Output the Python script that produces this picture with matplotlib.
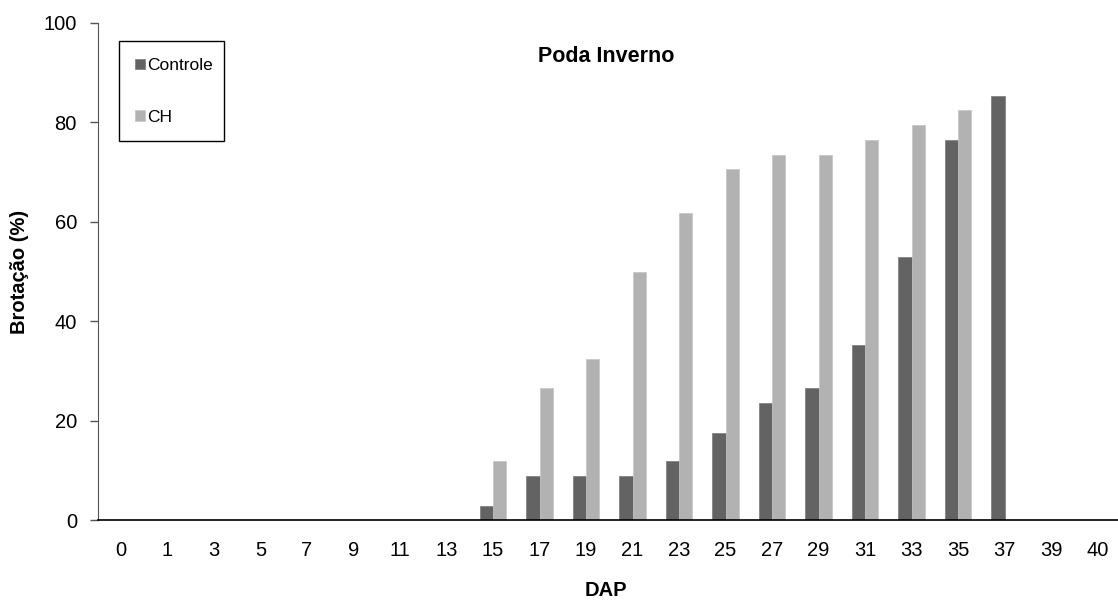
import matplotlib
matplotlib.use("Agg")
import matplotlib.pyplot as plt
from matplotlib.patches import Rectangle
import numpy as np

plt.rcParams['font.family'] = ['Liberation Sans', 'DejaVu Sans']

dap = ["0", "1", "3", "5", "7", "9", "11", "13", "15", "17", "19",
       "21", "23", "25", "27", "29", "31", "33", "35", "37", "39", "40"]
controle = [0, 0, 0, 0, 0, 0, 0, 0, 2.9, 8.8, 8.8, 8.8, 11.8, 17.6,
            23.5, 26.5, 35.3, 52.9, 76.5, 85.3, 0, 0]
ch = [0, 0, 0, 0, 0, 0, 0, 0, 11.8, 26.5, 32.4, 50.0, 61.8, 70.6,
      73.5, 73.5, 76.5, 79.4, 82.4, 0, 0, 0]
yticks = [0, 20, 40, 60, 80, 100]

fig = plt.figure(figsize=(11.18, 6.08), dpi=100)
AX_L, AX_W, AX_B, AX_H = 97.75, 1023, 88, 497
ax = fig.add_axes([AX_L / 1118, AX_B / 608, AX_W / 1118, AX_H / 608])

def axx(px):
    return (px - AX_L) / AX_W

def axy(py):
    return (608 - AX_B - py) / AX_H

x = np.arange(len(dap))
w = 0.29
ax.bar(x - w / 2, controle, w, color="#636363", edgecolor="#7a7a7a", linewidth=0.5, label="Controle")
ax.bar(x + w / 2, ch, w, color="#b2b2b2", edgecolor="#c4c4c4", linewidth=0.5, label="CH")

ax.set_xlim(-0.5, len(dap) - 0.5)
ax.set_ylim(0, 100)
ax.set_xticks(x)
ax.set_xticklabels(dap)
ax.set_yticks(yticks)
ax.tick_params(axis="x", length=0, pad=15, labelsize=14.5)
ax.tick_params(axis="y", length=6, width=1, color="#555555", pad=9, labelsize=14.5)
for s in ["top", "right"]:
    ax.spines[s].set_visible(False)
ax.spines["left"].set_color("#555555")
ax.spines["bottom"].set_color("black")
ax.spines["bottom"].set_linewidth(1.2)

ax.set_ylabel("Brotação (%)", fontsize=14.5, fontweight="bold")
ax.yaxis.set_label_coords(axx(20), 0.5)
ax.set_xlabel("DAP", fontsize=14.5, fontweight="bold")
ax.xaxis.set_label_coords(0.497, axy(590))
ax.xaxis.label.set_va("center")
ax.yaxis.label.set_va("center")
ax.text(axx(606), axy(57), "Poda Inverno", transform=ax.transAxes,
        ha="center", va="center", fontsize=15.5, fontweight="bold")

# legend box drawn explicitly
ax.add_patch(Rectangle((axx(119), axy(141)), axx(224) - axx(119), axy(41) - axy(141),
                       transform=ax.transAxes, fill=False, edgecolor="black",
                       linewidth=1.0, clip_on=False, zorder=5))
leg = ax.legend(loc="upper left", bbox_to_anchor=(axx(135), axy(58)), fontsize=12.5,
                frameon=False, handlelength=0.55, handleheight=0.55, handletextpad=0.15,
                labelspacing=2.12, borderpad=0, borderaxespad=0)

fig.savefig("out.png", dpi=100)
